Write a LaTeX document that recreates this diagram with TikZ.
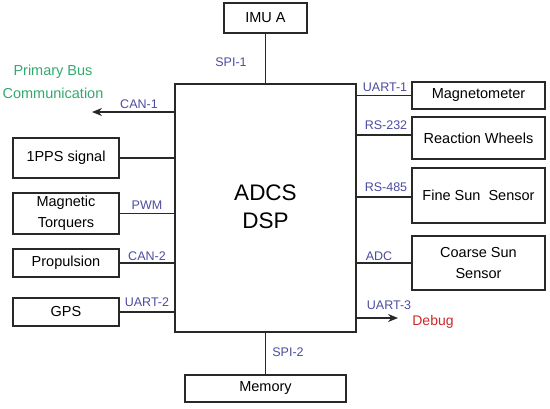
\documentclass[tikz,border=0pt]{standalone}
\usepackage{fontspec}
\setmainfont{Liberation Sans}
\usetikzlibrary{arrows.meta}
\definecolor{lineC}{RGB}{40,40,40}
\definecolor{labC}{RGB}{75,75,160}
\definecolor{greenC}{RGB}{50,170,110}
\definecolor{redC}{RGB}{205,40,40}
\tikzset{
  box/.style={draw=lineC, line width=1.3pt, align=center, inner sep=0pt,
    font=\fontsize{14.5}{21}\selectfont, text=black},
  conn/.style={draw=lineC, line width=1.3pt},
  arr/.style={conn, -{Stealth[length=10pt,width=8pt]}},
  lab/.style={text=labC, font=\fontsize{12.5}{15}\selectfont, inner sep=0pt},
  note/.style={font=\fontsize{14.5}{21}\selectfont, inner sep=0pt, align=center}
}
\begin{document}
\begin{tikzpicture}[x=1pt,y=-1pt]
\useasboundingbox (0,0) rectangle (550,408);
% main
\node[box, minimum width=181pt, minimum height=248pt] (main) at (265.5,208) {};
\node[note, font=\fontsize{22.5}{28}\selectfont] (dsp) at (265.5,207) {ADCS\\DSP};
% top / bottom
\node[box, minimum width=83pt, minimum height=30pt] (imu) at (265.5,18) {IMU A};
\node[box, minimum width=161pt, minimum height=27pt] (mem) at (265.5,388.5) {Memory};
% left
\node[box, minimum width=106pt, minimum height=40pt] (pps) at (66,158) {1PPS signal};
\node[box, minimum width=106pt, minimum height=41pt] (mtq) at (66,213.5) {Magnetic\\Torquers};
\node[box, minimum width=106pt, minimum height=28pt] (prop) at (66,263) {Propulsion};
\node[box, minimum width=106pt, minimum height=28pt] (gps) at (66,312) {GPS};
% right
\node[box, minimum width=133pt, minimum height=27pt] (mag) at (478.5,95.5) {Magnetometer};
\node[box, minimum width=133pt, minimum height=42pt] (rw) at (478.5,138) {Reaction Wheels};
\node[box, minimum width=133pt, minimum height=55pt] (fss) at (478.5,195.5) {Fine Sun~ Sensor};
\node[box, minimum width=133pt, minimum height=54pt] (css) at (478.5,263) {Coarse Sun\\Sensor};
% free ends
\coordinate (canend) at (92,112);
\coordinate (dbgend) at (398,318);
% connectors
\draw[conn] (imu.south) -- (imu.south |- main.north);
\draw[conn] (mem.north) -- (mem.north |- main.south);
\draw[conn] (pps.east) -- (pps.east -| main.west);
\draw[conn] (mtq.east) -- (mtq.east -| main.west);
\draw[conn] (prop.east) -- (prop.east -| main.west);
\draw[conn] (gps.east) -- (gps.east -| main.west);
\draw[conn] (mag.west -| main.east) -- (mag.west);
\draw[conn] (main.east |- 0,135) -- (rw.west |- 0,135);
\draw[conn] (main.east |- 0,197) -- (fss.west |- 0,197);
\draw[conn] (css.west -| main.east) -- (css.west);
\draw[arr] (main.west |- canend) -- (canend);
\draw[arr] (main.east |- dbgend) -- (dbgend);
% labels
\node[lab] (lspi1) at (231,62) {SPI-1};
\node[lab] (lspi2) at (288,352) {SPI-2};
\node[lab] (lcan1) at (139,104) {CAN-1};
\node[lab] (lpwm) at (147,205) {PWM};
\node[lab] (lcan2) at (147,256) {CAN-2};
\node[lab] (luart2) at (147,302) {UART-2};
\node[lab] (luart1) at (385,87) {UART-1};
\node[lab] (lrs232) at (386,125) {RS-232};
\node[lab] (lrs485) at (386,187) {RS-485};
\node[lab] (ladc) at (379,256) {ADC};
\node[lab] (luart3) at (389,305) {UART-3};
\node[note, text=redC, font=\fontsize{14}{17}\selectfont] (dbg) at (433,322) {Debug};
\node[note, text=greenC] (pbus) at (53,72) {Primary Bus};
\node[note, text=greenC] (comm) at (53,93) {Communication};
\end{tikzpicture}
\end{document}
